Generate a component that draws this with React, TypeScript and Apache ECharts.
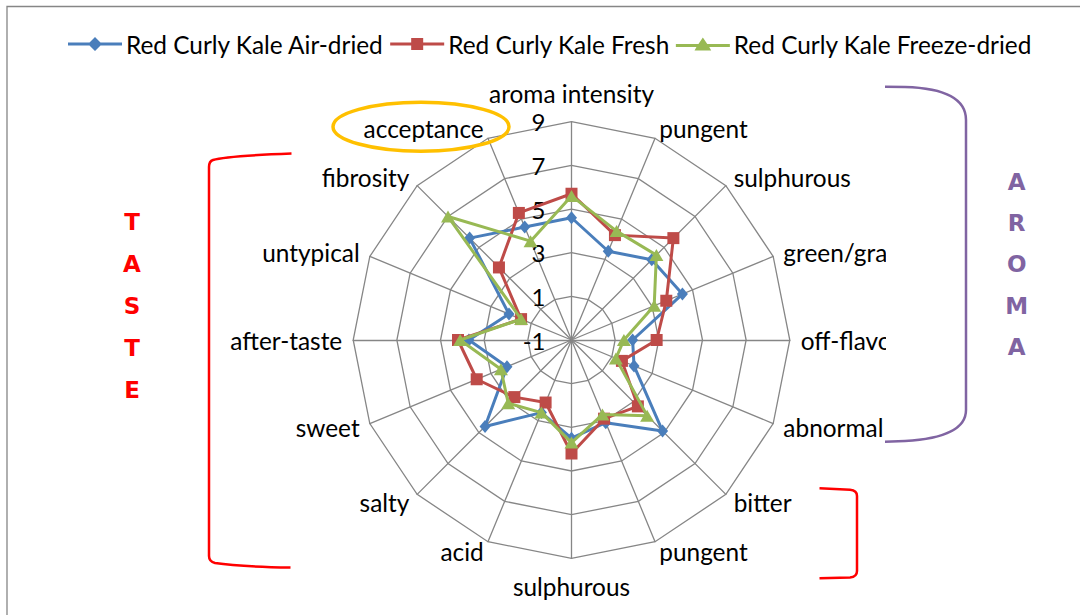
import React, { useEffect, useRef } from "react";
import * as echarts from "echarts";

// ---- data (clockwise from top) ----
const categories = [
  "aroma intensity", "pungent", "sulphurous", "green/grass", "off-flavour", "abnormal",
  "bitter", "pungent", "sulphurous", "acid", "salty", "sweet",
  "after-taste", "untypical", "fibrosity", "acceptance",
];
const seriesNames = ["Red Curly Kale Air-dried", "Red Curly Kale Fresh", "Red Curly Kale Freeze-dried"];
const airDried = [4.6, 3.4, 4.2, 4.5, 1.8, 2.1, 4.9, 3.1, 3.5, 2.6, 4.6, 2.2, 3.7, 2.1, 5.6, 4.6];
const fresh = [5.7, 4.2, 5.6, 3.7, 2.9, 1.5, 3.3, 2.9, 4.2, 2.1, 2.7, 3.7, 4.2, 1.5, 3.7, 5.3];
const freezeDried = [5.6, 4.4, 4.5, 3.1, 1.4, 1.2, 3.9, 2.7, 3.7, 2.6, 3.1, 2.5, 4.1, 1.5, 7.0, 3.9];
const axisMin = -1;
const axisMax = 9;
const axisStep = 2;
const tasteLetters = ["T", "A", "S", "T", "E"];
const aromaLetters = ["A", "R", "O", "M", "A"];

const FONT = "Lato, 'Open Sans', sans-serif";
const GRID = "#868686";
const COLORS = ["#4A7EBB", "#BE4B48", "#98B954"];

echarts.graphic.registerShape(
  "tasteBracket",
  echarts.graphic.extendPath(
    "M291.5,153.5 C250,155 222,157 213,160 C210,161 209,163 209,167 L209,556 C209,560 211,562 215,563 C235,566 260,567 290.5,567.5",
    {}
  )
);
echarts.graphic.registerShape(
  "aromaBracket",
  echarts.graphic.extendPath(
    "M885,86.7 L905,87 C940,88 966,97 966,120 L966,410 C966,431 940,439 905,441 L885,441.7",
    {}
  )
);
echarts.graphic.registerShape(
  "bitterBracket",
  echarts.graphic.extendPath(
    "M819.5,488.3 L850,489.8 C855,490.2 857,492 857,496 L857,571 C857,575 855,577 850,577.4 L819.5,578.3",
    {}
  )
);

const CENTER: [number, number] = [571.5, 340];
const RADIUS = 218.3;

// clockwise ordering for ECharts radar (which runs counter-clockwise)
const order = [0, ...Array.from({ length: categories.length - 1 }, (_, i) => categories.length - 1 - i)];

export default function App() {
  const ref = useRef<HTMLDivElement>(null);
  useEffect(() => {
    document.body.style.margin = "0";
    const chart = echarts.init(ref.current!, undefined, { renderer: "svg" });
    const indicator = order.map((i) => ({ name: categories[i], min: axisMin, max: axisMax }));
    const data = [airDried, fresh, freezeDried];
    const symbols = ["diamond", "rect", "triangle"];
    const symbolSizes: any[] = [[11, 13], 12, [14, 12]];
    const icons = [
      "path://M0,5.5 L21.5,5.5 L27,0 L32.5,5.5 L54,5.5 L54,8.5 L32.5,8.5 L27,14 L21.5,8.5 L0,8.5 Z",
      "path://M0,5.5 L21,5.5 L21,1 L33,1 L33,5.5 L54,5.5 L54,8.5 L33,8.5 L33,13 L21,13 L21,8.5 L0,8.5 Z",
      "path://M0,6.5 L23,6.5 L27.5,0 L32,6.5 L55,6.5 L55,9.5 L34,9.5 L36,13 L19,13 L21,9.5 L0,9.5 Z",
    ];
    chart.setOption({
      animation: false,
      backgroundColor: "#fff",
      textStyle: { fontFamily: FONT },
      legend: {
        left: 68,
        top: 32,
        padding: 0,
        itemWidth: 54,
        itemHeight: 14,
        itemGap: 6,
        symbolKeepAspect: true,
        textStyle: { fontSize: 24.4, color: "#000", fontFamily: FONT, padding: [0, 0, 0, -1] },
        data: seriesNames.map((n, k) => ({ name: n, icon: icons[k], itemStyle: { color: COLORS[k] } })),
      },
      radar: {
        center: CENTER,
        radius: RADIUS,
        startAngle: 90,
        splitNumber: (axisMax - axisMin) / axisStep,
        shape: "polygon",
        nameGap: 11,
        indicator,
        axisName: { color: "#000", fontSize: 24.4, fontFamily: FONT, padding: [5, 0, 5, 0] },
        splitLine: { lineStyle: { color: GRID, width: 1.3 } },
        splitArea: { show: false },
        axisLine: { lineStyle: { color: GRID, width: 1.3 } },
        axisTick: { show: false },
        axisLabel: { show: false },
      },
      polar: { center: CENTER, radius: RADIUS },
      angleAxis: { show: false, startAngle: 90, min: 0, max: 360 },
      radiusAxis: {
        min: axisMin,
        max: axisMax,
        interval: axisStep,
        axisLine: { show: false },
        axisTick: { show: false },
        splitLine: { show: false },
        axisLabel: { fontSize: 24, color: "#000", fontFamily: FONT, margin: 26 },
      },
      series: data.map((arr, k) => ({
        type: "radar",
        name: seriesNames[k],
        symbol: symbols[k],
        symbolSize: symbolSizes[k],
        lineStyle: { color: COLORS[k], width: 3 },
        itemStyle: { color: COLORS[k] },
        z: 2 + k,
        data: [{ name: seriesNames[k], value: order.map((i) => arr[i]) }],
      })),
      graphic: [
        {
          type: "rect",
          silent: true,
          z: 0,
          shape: { x: 7, y: 6.5, width: 1200, height: 800 },
          style: { fill: "none", stroke: GRID, lineWidth: 1.3 },
        },
        {
          type: "rect",
          silent: true,
          z: 100,
          shape: { x: 886, y: 225, width: 70, height: 230 },
          style: { fill: "#fff" },
        },
        {
          type: "ellipse",
          silent: true,
          z: 101,
          shape: { cx: 421, cy: 126.7, rx: 88, ry: 24.5 },
          style: { fill: "none", stroke: "#FFC000", lineWidth: 3.5 },
        },
        {
          type: "tasteBracket",
          silent: true,
          z: 101,
          style: { fill: "none", stroke: "#FF0000", lineWidth: 2.5 },
        },
        {
          type: "aromaBracket",
          silent: true,
          z: 101,
          style: { fill: "none", stroke: "#8064A2", lineWidth: 2.5 },
        },
        {
          type: "bitterBracket",
          silent: true,
          z: 101,
          style: { fill: "none", stroke: "#FF0000", lineWidth: 2.5 },
        },
        {
          type: "text",
          silent: true,
          z: 101,
          x: 132,
          y: 201,
          style: {
            text: tasteLetters.join("\n"),
            fill: "#FF0000",
            font: "bold 23px 'DejaVu Sans'",
            lineHeight: 42,
            align: "center",
            verticalAlign: "top",
          },
        },
        {
          type: "text",
          silent: true,
          z: 101,
          x: 1016.7,
          y: 161,
          style: {
            text: aromaLetters.join("\n"),
            fill: "#8064A2",
            font: "bold 23px 'DejaVu Sans'",
            lineHeight: 41.3,
            align: "center",
            verticalAlign: "top",
          },
        },
      ],
    });
    return () => chart.dispose();
  }, []);
  return <div ref={ref} style={{ width: 1080, height: 615 }} />;
}
